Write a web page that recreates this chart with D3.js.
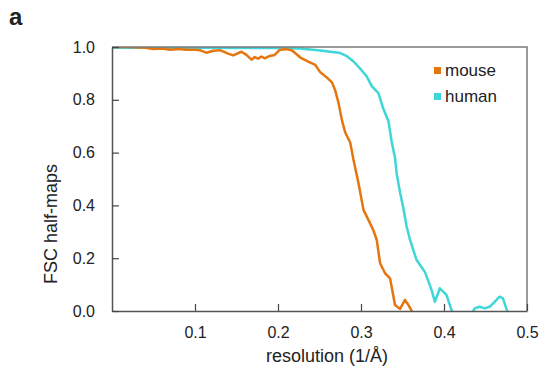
<!DOCTYPE html>
<html>
<head>
<meta charset="utf-8">
<script src="https://cdn.jsdelivr.net/npm/d3@7"></script>
<style>
   body { margin: 0; background: #fff; }
   text { font-family: "Liberation Sans", Arial, sans-serif; fill: #222; }
</style>
</head>
<body>
<div id="chart"></div>
<script>
//--------------------------------------------------------------
// DATA
//--------------------------------------------------------------
var mouseRes = [0.0, 0.02, 0.04, 0.05, 0.06, 0.07, 0.08, 0.09, 0.1, 0.106, 0.114, 0.122, 0.13, 0.14, 0.146,
   0.156, 0.162, 0.168, 0.172, 0.176, 0.18, 0.184, 0.19, 0.196, 0.202, 0.21, 0.217, 0.227, 0.237, 0.245,
   0.251, 0.259, 0.265, 0.269, 0.273, 0.277, 0.281, 0.287, 0.291, 0.297, 0.303, 0.311, 0.315, 0.319,
   0.323, 0.329, 0.335, 0.341, 0.347, 0.353, 0.357, 0.363, 0.37];
var mouseFsc = [1.0, 1.0, 0.997, 0.992, 0.994, 0.99, 0.992, 0.99, 0.99, 0.988, 0.978, 0.986, 0.988, 0.975, 0.968,
   0.982, 0.97, 0.952, 0.962, 0.956, 0.964, 0.957, 0.966, 0.97, 0.989, 0.992, 0.987, 0.96, 0.944, 0.932,
   0.904, 0.884, 0.866, 0.835, 0.787, 0.723, 0.676, 0.638, 0.572, 0.484, 0.383, 0.332, 0.305, 0.269,
   0.181, 0.143, 0.124, 0.023, 0.008, 0.042, 0.023, -0.01, -0.03];

var humanRes = [0.0, 0.1, 0.2, 0.227, 0.251, 0.275, 0.283, 0.291, 0.299, 0.307, 0.313, 0.321, 0.327, 0.333,
   0.337, 0.341, 0.343, 0.347, 0.351, 0.355, 0.359, 0.367, 0.377, 0.385, 0.389, 0.395, 0.403, 0.409,
   0.415, 0.43, 0.437, 0.443, 0.449, 0.455, 0.461, 0.467, 0.471, 0.475, 0.479];
var humanFsc = [0.997, 0.997, 0.996, 0.994, 0.987, 0.977, 0.965, 0.945, 0.918, 0.888, 0.852, 0.825, 0.765, 0.72,
   0.64, 0.58, 0.52, 0.45, 0.39, 0.32, 0.27, 0.193, 0.148, 0.08, 0.035, 0.086, 0.061, 0.004,
   -0.03, -0.03, 0.01, 0.016, 0.01, 0.016, 0.035, 0.054, 0.048, 0.01, -0.02];

var xTicks = [0.1, 0.2, 0.3, 0.4, 0.5];
var yTicks = [0.0, 0.2, 0.4, 0.6, 0.8, 1.0];
var seriesNames = ["mouse", "human"];
var seriesColors = ["#e5760f", "#3fd6d8"];

//--------------------------------------------------------------
// CHART SIZE PARAMETERS
//--------------------------------------------------------------
var width = 543;
var height = 374;
var margin = { top: 47, right: 16, bottom: 63, left: 112 };
var chartWidth = width - margin.left - margin.right;
var chartHeight = height - margin.top - margin.bottom;
var tickLen = 7;

//--------------------------------------------------------------
// BUILD
//--------------------------------------------------------------
var svg = d3.select("#chart").append("svg")
   .attr("width", width)
   .attr("height", height);

var chartGroup = svg.append("g")
   .attr("transform", `translate(${margin.left}, ${margin.top})`);

var xScale = d3.scaleLinear().domain([0, 0.5]).range([0, chartWidth]);
var yScale = d3.scaleLinear().domain([0, 1]).range([chartHeight, 0]);

// clip so values below zero disappear under the axis
svg.append("defs").append("clipPath").attr("id", "plotClip")
   .append("rect")
   .attr("x", 0).attr("y", 0)
   .attr("width", chartWidth).attr("height", chartHeight);

// curves
var line = d3.line()
   .x(d => xScale(d[0]))
   .y(d => yScale(d[1]));

var series = [
   d3.zip(mouseRes, mouseFsc),
   d3.zip(humanRes, humanFsc)
];

var linesGroup = chartGroup.append("g").attr("clip-path", "url(#plotClip)");
// human behind mouse
[1, 0].forEach(i => {
   linesGroup.append("path")
      .datum(series[i])
      .attr("fill", "none")
      .attr("stroke", seriesColors[i])
      .attr("stroke-width", 2.5)
      .attr("stroke-linejoin", "round")
      .attr("d", line);
});

// frame: top and right
chartGroup.append("path")
   .attr("d", `M0,0H${chartWidth}V${chartHeight}`)
   .attr("fill", "none")
   .attr("stroke", "#7a7a7a")
   .attr("stroke-width", 1.5);

// axes with inward ticks
var bottomAxis = d3.axisBottom(xScale)
   .tickValues(xTicks)
   .tickSizeInner(-tickLen)
   .tickSizeOuter(0)
   .tickPadding(tickLen + 9)
   .tickFormat(d3.format(".1f"));

var leftAxis = d3.axisLeft(yScale)
   .tickValues(yTicks)
   .tickSizeInner(-tickLen)
   .tickSizeOuter(0)
   .tickPadding(tickLen + 10)
   .tickFormat(d3.format(".1f"));

var xAxis = chartGroup.append("g")
   .attr("transform", `translate(0, ${chartHeight})`)
   .call(bottomAxis);

var yAxis = chartGroup.append("g")
   .call(leftAxis);

[xAxis, yAxis].forEach(ax => {
   ax.select(".domain").attr("stroke", "#555").attr("stroke-width", 1.5);
   ax.selectAll(".tick line").attr("stroke", "#444").attr("stroke-width", 1.2);
   ax.selectAll(".tick text")
      .attr("font-size", 16)
      .attr("font-family", "Liberation Sans, Arial, sans-serif")
      .attr("fill", "#222");
});
xAxis.selectAll(".tick text").attr("dy", "0.71em");

// axis titles
svg.append("text")
   .attr("x", 327)
   .attr("y", 362)
   .attr("text-anchor", "middle")
   .attr("font-size", 18)
   .text("resolution (1/Å)");

svg.append("text")
   .attr("transform", "translate(57, 224) rotate(-90)")
   .attr("text-anchor", "middle")
   .attr("font-size", 18)
   .text("FSC half-maps");

// panel letter
svg.append("text")
   .attr("x", 9)
   .attr("y", 25)
   .attr("font-size", 24)
   .attr("font-weight", "bold")
   .attr("fill", "#000")
   .text("a");

// legend
var legend = chartGroup.append("g")
   .attr("transform", "translate(322, 20)");

seriesNames.forEach((name, i) => {
   var item = legend.append("g").attr("transform", `translate(0, ${i * 26})`);
   item.append("rect")
      .attr("x", 0).attr("y", 0)
      .attr("width", 7).attr("height", 7)
      .attr("fill", seriesColors[i]);
   item.append("text")
      .attr("x", 11)
      .attr("y", 9)
      .attr("font-size", 17)
      .text(name);
});
</script>
</body>
</html>
